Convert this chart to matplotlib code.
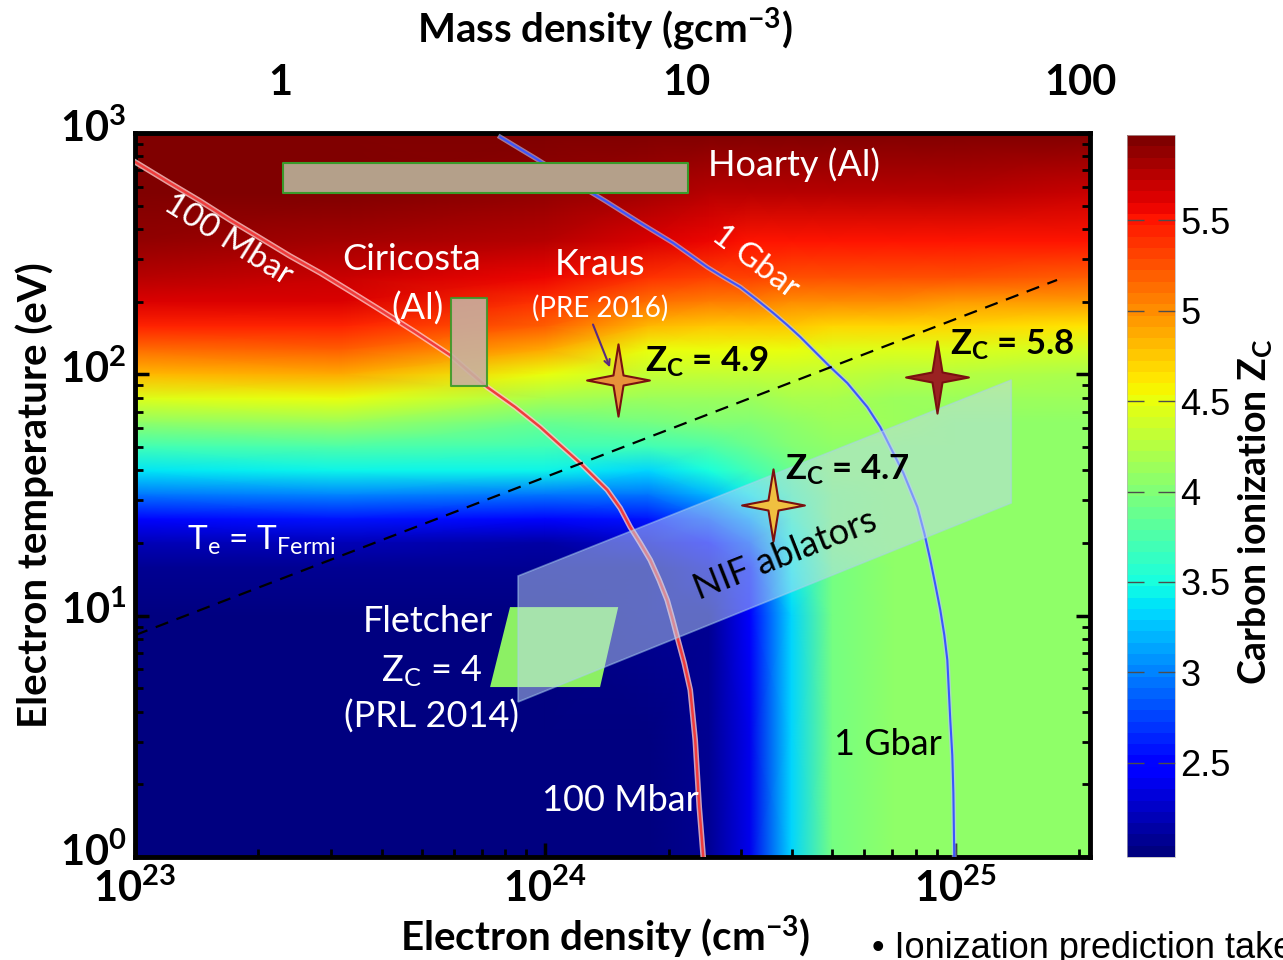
import numpy as np
import matplotlib
matplotlib.use('Agg')
import matplotlib.pyplot as plt
from matplotlib.path import Path
from matplotlib.patches import Polygon, Rectangle
from matplotlib.ticker import NullFormatter, NullLocator, LogLocator
from matplotlib.transforms import ScaledTranslation

plt.rcParams['font.family'] = ['Lato', 'DejaVu Sans']
plt.rcParams['mathtext.fontset'] = 'custom'
plt.rcParams['mathtext.rm'] = 'Lato'
plt.rcParams['mathtext.it'] = 'Lato:italic'
plt.rcParams['mathtext.bf'] = 'Lato:bold'

# ---------------- data ----------------
# Grid of carbon ionization (rows: temperature, cols: density)
ne_grid = [1.0e23, 3.16e23, 1.0e24, 1.78e24, 2.51e24, 3.16e24, 3.98e24,
           5.01e24, 7.08e24, 1.0e25, 2.14e25]
T_grid = [1000, 562, 355, 251, 200, 158, 126, 100, 79.4, 63.1, 50.1, 39.8,
          31.6, 25.1, 20.0, 15.8, 10.0, 3.16, 1.0]
Zc_cols = [
    [5.96, 5.93, 5.85, 5.75, 5.65, 5.45, 5.10, 4.80, 4.45, 4.05, 3.70, 3.40, 2.95, 2.50, 2.20, 2.07, 2.03, 2.02, 2.02],
    [5.96, 5.92, 5.84, 5.72, 5.62, 5.45, 5.18, 4.85, 4.50, 4.10, 3.75, 3.45, 3.00, 2.55, 2.22, 2.08, 2.03, 2.02, 2.02],
    [5.96, 5.88, 5.74, 5.55, 5.40, 5.18, 4.85, 4.50, 4.20, 3.90, 3.70, 3.45, 2.95, 2.50, 2.15, 2.05, 2.03, 2.02, 2.02],
    [5.96, 5.80, 5.60, 5.38, 5.12, 4.82, 4.52, 4.30, 4.12, 3.95, 3.70, 3.35, 2.95, 2.55, 2.25, 2.10, 2.05, 2.04, 2.04],
    [5.96, 5.77, 5.55, 5.32, 5.06, 4.78, 4.50, 4.30, 4.14, 3.98, 3.78, 3.52, 3.20, 2.85, 2.50, 2.25, 2.10, 2.08, 2.08],
    [5.96, 5.75, 5.53, 5.30, 5.04, 4.77, 4.50, 4.32, 4.16, 4.03, 3.88, 3.68, 3.42, 3.12, 2.82, 2.60, 2.42, 2.40, 2.40],
    [5.96, 5.75, 5.52, 5.28, 5.02, 4.75, 4.48, 4.32, 4.18, 4.08, 4.00, 3.90, 3.78, 3.64, 3.52, 3.44, 3.34, 3.32, 3.32],
    [5.96, 5.74, 5.50, 5.27, 5.00, 4.72, 4.46, 4.30, 4.18, 4.12, 4.08, 4.05, 4.02, 4.00, 3.98, 3.96, 3.95, 3.96, 3.97],
    [5.96, 5.74, 5.50, 5.25, 4.98, 4.70, 4.45, 4.28, 4.16, 4.10, 4.07, 4.06, 4.05, 4.05, 4.05, 4.05, 4.05, 4.05, 4.05],
    [5.96, 5.73, 5.49, 5.24, 4.97, 4.68, 4.43, 4.26, 4.15, 4.09, 4.07, 4.06, 4.05, 4.05, 4.05, 4.05, 4.05, 4.05, 4.05],
    [5.96, 5.72, 5.48, 5.22, 4.95, 4.65, 4.40, 4.22, 4.12, 4.08, 4.06, 4.05, 4.05, 4.05, 4.05, 4.05, 4.05, 4.05, 4.05],
]

# isobars (electron density cm^-3, temperature eV)
ne_100Mbar = [1.00e23, 1.217e23, 1.44e23, 1.705e23, 2.02e23, 2.388e23, 2.83e23, 3.345e23,
              3.96e23, 4.82e23, 5.87e23, 7.22e23, 8.45e23, 9.72e23, 1.088e24, 1.217e24,
              1.417e24, 1.524e24, 1.612e24, 1.705e24, 1.804e24, 1.897e24, 1.984e24,
              2.041e24, 2.099e24, 2.183e24, 2.258e24, 2.322e24, 2.375e24, 2.429e24]
T_100Mbar = [759, 620, 523, 436, 367, 309, 263, 221, 185, 149.7, 120, 88.5, 73.2, 60.5,
             50.9, 42.9, 33.2, 27.9, 23.3, 20.0, 17.0, 14.05, 11.6, 9.77, 8.15, 6.36,
             4.92, 3.05, 1.61, 1.0]
ne_1Gbar = [7.77e23, 9.45e23, 1.151e24, 1.401e24, 1.705e24, 2.052e24, 2.258e24, 2.484e24,
            2.717e24, 2.990e24, 3.289e24, 3.598e24, 3.892e24, 4.188e24, 4.555e24, 4.956e24,
            5.453e24, 6.10e24, 6.56e24, 6.94e24, 7.47e24, 8.08e24, 8.40e24, 8.69e24,
            8.94e24, 9.19e24, 9.40e24, 9.56e24, 9.72e24, 9.83e24, 9.89e24, 9.94e24]
T_1Gbar = [962, 787, 639, 523, 424, 350, 312, 278, 253, 230, 203, 179.5, 160, 142.8, 123.7,
           107.2, 92.0, 73.2, 60.5, 50.0, 39.0, 28.2, 22.0, 17.0, 13.4, 10.55, 8.31, 6.55,
           3.69, 2.64, 1.84, 1.0]

# Te = T_Fermi line
ne_fermi = [1.0e23, 1.77e25]
T_fermi = [8.3, 246]

# experiments
hoarty_ne = [2.3e23, 2.23e24]
hoarty_T = [564, 752]
ciricosta_ne = [5.90e23, 7.23e23]
ciricosta_T = [89.5, 207]
fletcher_ne = [8.21e23, 1.507e24, 1.361e24, 7.34e23]
fletcher_T = [10.85, 10.85, 5.06, 5.06]
nif_ne = [8.59e23, 1.369e25, 1.369e25, 8.59e23]
nif_T = [14.6, 94.7, 29.3, 4.39]
star_ne = [1.507e24, 9.04e24, 3.60e24]
star_T = [94.7, 97.4, 28.7]
star_fill = ['#e8923a', '#9a2222', '#f0c040']

# mass density axis
rho_labels = ['1', '10', '100']
rho_ne = [2.26e23, 2.21e24, 2.02e25]

cb_ticks = [2.5, 3, 3.5, 4, 4.5, 5, 5.5]
cb_labels = ['2.5', '3', '3.5', '4', '4.5', '5', '5.5']

# ---------------- figure ----------------
fig = plt.figure(figsize=(12.83, 9.6), dpi=100)
ax = fig.add_axes([0.1052, 0.1073, 0.7444, 0.7542])

Zc = np.array(Zc_cols).T
NE, TT = np.meshgrid(ne_grid, T_grid)
cmap = plt.get_cmap('jet', 64)
mesh = ax.pcolormesh(NE, TT, Zc, shading='gouraud', cmap=cmap, vmin=1.98, vmax=5.97,
                     rasterized=True)
ax.set_xscale('log')
ax.set_yscale('log')
ax.set_xlim(1e23, 2.13e25)
ax.set_ylim(1, 1000)

# isobars
ax.plot(ne_100Mbar, T_100Mbar, color='#ffc8c8', lw=4, alpha=0.8, zorder=3,
        solid_joinstyle='round')
ax.plot(ne_100Mbar, T_100Mbar, color='#f03c3c', lw=1.8, zorder=3, solid_joinstyle='round')
ax.plot(ne_1Gbar, T_1Gbar, color='#b8c4ff', lw=3.5, alpha=0.6, zorder=3,
        solid_joinstyle='round')
ax.plot(ne_1Gbar, T_1Gbar, color='#3a55ff', lw=1.5, zorder=3, solid_joinstyle='round')

# fermi line
ax.plot(ne_fermi, T_fermi, color='black', lw=1.6, dashes=(6, 4), zorder=4)

# boxes
ax.add_patch(Rectangle((hoarty_ne[0], hoarty_T[0]), hoarty_ne[1] - hoarty_ne[0],
                       hoarty_T[1] - hoarty_T[0], facecolor='#b4a08a', edgecolor='#3a9a2a',
                       lw=1.5, zorder=4, joinstyle='round'))
ax.add_patch(Rectangle((ciricosta_ne[0], ciricosta_T[0]), ciricosta_ne[1] - ciricosta_ne[0],
                       ciricosta_T[1] - ciricosta_T[0], facecolor='#c8b0a0', edgecolor='#3a9a2a',
                       lw=1.5, alpha=0.9, zorder=4, joinstyle='round'))
ax.add_patch(Polygon(list(zip(fletcher_ne, fletcher_T)), closed=True, facecolor='#8cf064',
                     edgecolor='none', zorder=4))
ax.add_patch(Polygon(list(zip(nif_ne, nif_T)), closed=True, facecolor='#c0d8f4',
                     edgecolor='#a8d0f0', lw=1.2, alpha=0.5, zorder=5))

# stars
star = Path([(0, 1.15), (0.16, 0.16), (1, 0), (0.16, -0.16), (0, -1.15), (-0.16, -0.16),
             (-1, 0), (-0.16, 0.16), (0, 1.15)], closed=True)
for n, t, c in zip(star_ne, star_T, star_fill):
    ax.plot([n], [t], marker=star, markersize=52, markerfacecolor=c,
            markeredgecolor='#7a1010', markeredgewidth=1.5, linestyle='none', zorder=6)

# texts
W = 'white'
def atext(x, y, s, **kw):
    kw.setdefault('color', W)
    kw.setdefault('fontsize', 26)
    kw.setdefault('ha', 'center')
    kw.setdefault('va', 'center')
    ax.text(x, y, s, transform=ax.transAxes, zorder=7, **kw)

atext(0.600, 0.956, 'Hoarty (Al)', ha='left')
atext(0.290, 0.825, 'Ciricosta')
atext(0.2953, 0.758, '(Al)')
atext(0.487, 0.818, 'Kraus')
atext(0.487, 0.758, '(PRE 2016)', fontsize=20)
atext(0.534, 0.6837, r'Z$_\mathbf{C}$ = 4.9', color='black', fontweight='bold', ha='left',
      fontsize=25)
atext(0.8534, 0.707, r'Z$_\mathbf{C}$ = 5.8', color='black', fontweight='bold', ha='left',
      fontsize=25)
atext(0.6806, 0.5345, r'Z$_\mathbf{C}$ = 4.7', color='black', fontweight='bold', ha='left',
      fontsize=25)
atext(0.6806, 0.417, 'NIF ablators', color='black', rotation=21.5)
atext(0.3068, 0.3246, 'Fletcher')
atext(0.311, 0.2569, r'Z$_\mathrm{C}$ = 4')
atext(0.311, 0.1934, '(PRL 2014)')
atext(0.133, 0.4378, r'T$_\mathrm{e}$ = T$_\mathrm{Fermi}$', fontsize=24)
atext(0.0974, 0.8522, '100 Mbar', rotation=-32, fontsize=24)
atext(0.649, 0.8218, '1 Gbar', rotation=-37, fontsize=24)
atext(0.508, 0.0787, '100 Mbar')
atext(0.7885, 0.1547, '1 Gbar', color='black')

ax.annotate('', xy=(0.4984, 0.6727), xytext=(0.4785, 0.739), xycoords='axes fraction',
            arrowprops=dict(arrowstyle='->', color='#5a2a80', lw=1.5), zorder=7)

# axes styling
for s in ax.spines.values():
    s.set_linewidth(3.5)
ax.set_xticks([1e23, 1e24, 1e25])
ax.set_xticklabels([r'$\mathbf{10^{23}}$', r'$\mathbf{10^{24}}$', r'$\mathbf{10^{25}}$'])
ax.set_yticks([1, 10, 100, 1000])
ax.set_yticklabels([r'$\mathbf{10^{0}}$', r'$\mathbf{10^{1}}$', r'$\mathbf{10^{2}}$',
                    r'$\mathbf{10^{3}}$'])
ax.xaxis.set_minor_locator(LogLocator(base=10, subs=np.arange(2, 10)))
ax.yaxis.set_minor_locator(LogLocator(base=10, subs=np.arange(2, 10)))
ax.xaxis.set_minor_formatter(NullFormatter())
ax.yaxis.set_minor_formatter(NullFormatter())
ax.tick_params(which='both', direction='in', top=True, right=True, labelsize=30)
ax.tick_params(which='major', length=10, width=2.5)
ax.tick_params(which='minor', length=6, width=2)
ax.tick_params(axis='x', pad=8)
ax.tick_params(axis='y', pad=6)
up = ScaledTranslation(0, 6 / 72, fig.dpi_scale_trans)
for lbl in ax.get_yticklabels():
    lbl.set_transform(lbl.get_transform() + up)

axt = ax.twiny()
axt.set_xscale('log')
axt.set_xlim(ax.get_xlim())
axt.set_xticks(rho_ne)
axt.set_xticklabels(rho_labels, fontweight='bold')
axt.xaxis.set_minor_locator(NullLocator())
axt.tick_params(axis='x', length=0, labelsize=30, pad=22)
for s in axt.spines.values():
    s.set_visible(False)

fig.text(0.4716, 0.969, r'Mass density (gcm$^{\mathbf{-3}}$)', ha='center', va='center',
         fontsize=29, fontweight='bold')
fig.text(0.4716, 0.024, r'Electron density (cm$^{\mathbf{-3}}$)', ha='center', va='center',
         fontsize=29, fontweight='bold')
fig.text(0.0273, 0.4844, 'Electron temperature (eV)', ha='center', va='center',
         fontsize=29, fontweight='bold', rotation=90)

# colorbar
cax = fig.add_axes([0.8784, 0.1073, 0.0374, 0.752])
cb = fig.colorbar(mesh, cax=cax, ticks=cb_ticks)
cb.ax.set_yticklabels(cb_labels)
for t in cb.ax.get_yticklabels():
    t.set_fontfamily('Liberation Sans')
    t.set_fontsize(26)
cb.ax.tick_params(direction='in', length=12, width=1, color='0.3', left=True, right=True, pad=4)
cb.outline.set_linewidth(0.5)
cb.outline.set_edgecolor('0.7')
fig.text(0.9785, 0.467, r'Carbon ionization Z$_\mathbf{C}$', ha='center', va='center',
         fontsize=27, fontweight='bold', rotation=90)

fig.text(0.6797, 0.012, '\u2022 Ionization prediction takes', ha='left', va='center',
         fontsize=26, fontfamily='Liberation Sans')

fig.savefig('out.png', dpi=100)
